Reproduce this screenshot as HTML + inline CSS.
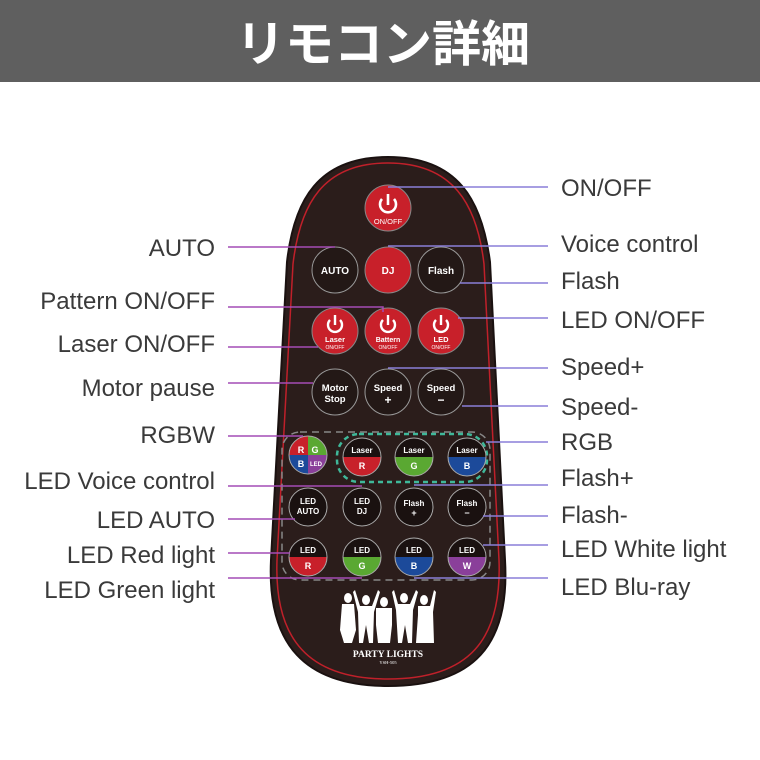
<!DOCTYPE html>
<html><head><meta charset="utf-8"><style>
html,body{margin:0;padding:0;background:#fff;}
svg{display:block}
</style></head><body>
<svg width="760" height="760" viewBox="0 0 760 760" xmlns="http://www.w3.org/2000/svg" font-family="Liberation Sans, sans-serif">
<rect width="760" height="760" fill="#fff"/>
<rect width="760" height="82" fill="#5f5f5f"/>
<text x="383" y="61" text-anchor="middle" fill="#fff" font-size="49" font-weight="bold" font-family="Liberation Sans, Noto Sans CJK JP, sans-serif">リモコン詳細</text>

<!-- remote body -->
<path d="M388,157 C318,157 294,200 287,262 L271,560 C267,645 305,686 388,686 C474,686 510,645 505,560 L490,262 C482,200 458,157 388,157 Z" fill="#2b1d1b" stroke="#1a1110" stroke-width="2"/>
<path d="M388,163 C323,163 300,204 293,264 L277,560 C274,640 309,679 388,679 C469,679 502,640 499,560 L484,264 C477,204 453,163 388,163 Z" fill="none" stroke="#c0202a" stroke-width="1.5"/>

<g font-weight="bold" text-anchor="middle" fill="#fff">
<circle cx="388" cy="208" r="23" fill="#c8202a" stroke="#888" stroke-width="1"/>
<path d="M382,199 A8,8 0 1 0 394,199" fill="none" stroke="#fff" stroke-width="2.6"/>
<line x1="388" y1="194" x2="388" y2="205" stroke="#fff" stroke-width="2.6"/>
<text x="388" y="224" font-size="7.5" font-weight="normal">ON/OFF</text>
<circle cx="335" cy="270" r="23" fill="#231816" stroke="#999" stroke-width="1"/>
<text x="335" y="274" font-size="10">AUTO</text>
<circle cx="388" cy="270" r="23" fill="#c8202a" stroke="#888" stroke-width="1"/>
<text x="388" y="274" font-size="10">DJ</text>
<circle cx="441" cy="270" r="23" fill="#231816" stroke="#999" stroke-width="1"/>
<text x="441" y="274" font-size="10">Flash</text>
<g>
<circle cx="335" cy="331" r="23" fill="#c8202a" stroke="#888"/>
<path d="M330,320 A7,7 0 1 0 340,320" fill="none" stroke="#fff" stroke-width="2.4"/><line x1="335" y1="315" x2="335" y2="325" stroke="#fff" stroke-width="2.4"/>
<text x="335" y="342" font-size="7.5">Laser</text><text x="335" y="349" font-size="5" font-weight="normal">ON/OFF</text>
<circle cx="388" cy="331" r="23" fill="#c8202a" stroke="#888"/>
<path d="M383,320 A7,7 0 1 0 393,320" fill="none" stroke="#fff" stroke-width="2.4"/><line x1="388" y1="315" x2="388" y2="325" stroke="#fff" stroke-width="2.4"/>
<text x="388" y="342" font-size="7">Battern</text><text x="388" y="349" font-size="5" font-weight="normal">ON/OFF</text>
<circle cx="441" cy="331" r="23" fill="#c8202a" stroke="#888"/>
<path d="M436,320 A7,7 0 1 0 446,320" fill="none" stroke="#fff" stroke-width="2.4"/><line x1="441" y1="315" x2="441" y2="325" stroke="#fff" stroke-width="2.4"/>
<text x="441" y="342" font-size="7.5">LED</text><text x="441" y="349" font-size="5" font-weight="normal">ON/OFF</text>
</g>
<circle cx="335" cy="392" r="23" fill="#231816" stroke="#999"/>
<text x="335" y="391" font-size="9.5">Motor</text><text x="335" y="402" font-size="9.5">Stop</text>
<circle cx="388" cy="392" r="23" fill="#231816" stroke="#999"/>
<text x="388" y="391" font-size="9.5">Speed</text><text x="388" y="404" font-size="12">+</text>
<circle cx="441" cy="392" r="23" fill="#231816" stroke="#999"/>
<text x="441" y="391" font-size="9.5">Speed</text><text x="441" y="404" font-size="12">−</text>

<rect x="282" y="432" width="208" height="148" rx="18" fill="none" stroke="#888" stroke-width="1.5" stroke-dasharray="7,5"/>
<rect x="337" y="434" width="150" height="48" rx="22" fill="none" stroke="#3fb89a" stroke-width="2.5" stroke-dasharray="5,4"/>

<clipPath id="c1"><circle cx="308" cy="455" r="19"/></clipPath>
<g clip-path="url(#c1)">
<rect x="289" y="436" width="19" height="19" fill="#c8202a"/><rect x="308" y="436" width="19" height="19" fill="#5aa832"/>
<rect x="289" y="455" width="19" height="19" fill="#1c4a9a"/><rect x="308" y="455" width="19" height="19" fill="#8a3f9a"/>
</g>
<circle cx="308" cy="455" r="19" fill="none" stroke="#aaa"/>
<text x="301" y="453" font-size="9">R</text><text x="315" y="453" font-size="9">G</text>
<text x="301" y="467" font-size="9">B</text><text x="316" y="466" font-size="6">LED</text>

<g>
<clipPath id="c2"><circle cx="362" cy="457" r="19"/></clipPath>
<g clip-path="url(#c2)"><rect x="343" y="438" width="38" height="19" fill="#1a1110"/><rect x="343" y="457" width="38" height="19" fill="#c8202a"/></g>
<circle cx="362" cy="457" r="19" fill="none" stroke="#aaa"/>
<text x="362" y="453" font-size="8">Laser</text><text x="362" y="469" font-size="9">R</text>
<clipPath id="c3"><circle cx="414" cy="457" r="19"/></clipPath>
<g clip-path="url(#c3)"><rect x="395" y="438" width="38" height="19" fill="#1a1110"/><rect x="395" y="457" width="38" height="19" fill="#5aa832"/></g>
<circle cx="414" cy="457" r="19" fill="none" stroke="#aaa"/>
<text x="414" y="453" font-size="8">Laser</text><text x="414" y="469" font-size="9">G</text>
<clipPath id="c4"><circle cx="467" cy="457" r="19"/></clipPath>
<g clip-path="url(#c4)"><rect x="448" y="438" width="38" height="19" fill="#1a1110"/><rect x="448" y="457" width="38" height="19" fill="#1c4a9a"/></g>
<circle cx="467" cy="457" r="19" fill="none" stroke="#aaa"/>
<text x="467" y="453" font-size="8">Laser</text><text x="467" y="469" font-size="9">B</text>
</g>

<circle cx="308" cy="507" r="19" fill="#1a1110" stroke="#aaa"/>
<text x="308" y="504" font-size="8">LED</text><text x="308" y="514" font-size="8">AUTO</text>
<circle cx="362" cy="507" r="19" fill="#1a1110" stroke="#aaa"/>
<text x="362" y="504" font-size="8">LED</text><text x="362" y="514" font-size="8">DJ</text>
<circle cx="414" cy="507" r="19" fill="#1a1110" stroke="#aaa"/>
<text x="414" y="506" font-size="8">Flash</text><text x="414" y="516" font-size="9">+</text>
<circle cx="467" cy="507" r="19" fill="#1a1110" stroke="#aaa"/>
<text x="467" y="506" font-size="8">Flash</text><text x="467" y="516" font-size="9">−</text>

<clipPath id="d1"><circle cx="308" cy="557" r="19"/></clipPath>
<g clip-path="url(#d1)"><rect x="289" y="538" width="38" height="19" fill="#1a1110"/><rect x="289" y="557" width="38" height="19" fill="#c8202a"/></g>
<circle cx="308" cy="557" r="19" fill="none" stroke="#aaa"/>
<text x="308" y="553" font-size="8">LED</text><text x="308" y="569" font-size="9">R</text>
<clipPath id="d2"><circle cx="362" cy="557" r="19"/></clipPath>
<g clip-path="url(#d2)"><rect x="343" y="538" width="38" height="19" fill="#1a1110"/><rect x="343" y="557" width="38" height="19" fill="#5aa832"/></g>
<circle cx="362" cy="557" r="19" fill="none" stroke="#aaa"/>
<text x="362" y="553" font-size="8">LED</text><text x="362" y="569" font-size="9">G</text>
<clipPath id="d3"><circle cx="414" cy="557" r="19"/></clipPath>
<g clip-path="url(#d3)"><rect x="395" y="538" width="38" height="19" fill="#1a1110"/><rect x="395" y="557" width="38" height="19" fill="#1c4a9a"/></g>
<circle cx="414" cy="557" r="19" fill="none" stroke="#aaa"/>
<text x="414" y="553" font-size="8">LED</text><text x="414" y="569" font-size="9">B</text>
<clipPath id="d4"><circle cx="467" cy="557" r="19"/></clipPath>
<g clip-path="url(#d4)"><rect x="448" y="538" width="38" height="19" fill="#1a1110"/><rect x="448" y="557" width="38" height="19" fill="#8a3f9a"/></g>
<circle cx="467" cy="557" r="19" fill="none" stroke="#aaa"/>
<text x="467" y="553" font-size="8">LED</text><text x="467" y="569" font-size="9">W</text>
</g>

<g fill="#fff">
<ellipse cx="348" cy="598" rx="4" ry="5"/><path d="M342,604 L354,604 L356,630 L352,643 L344,643 L340,630 Z"/>
<ellipse cx="366" cy="600" rx="4" ry="5"/><path d="M355,590 L360,606 L372,606 L378,590 L380,592 L374,612 L373,643 L369,643 L366,625 L363,643 L359,643 L358,612 L353,592 Z"/>
<ellipse cx="384" cy="602" rx="4" ry="5"/><path d="M376,608 L392,608 L392,625 L390,643 L378,643 L376,625 Z"/>
<ellipse cx="404" cy="598" rx="4" ry="5"/><path d="M394,590 L398,604 L410,604 L416,590 L418,592 L413,610 L412,643 L408,643 L405,625 L402,643 L398,643 L396,610 L392,592 Z"/>
<ellipse cx="424" cy="600" rx="4" ry="5"/><path d="M418,606 L430,606 L434,590 L436,592 L433,612 L434,643 L416,643 L418,615 Z"/>
</g>
<text x="388" y="657" text-anchor="middle" fill="#fff" font-size="9.5" font-weight="bold" font-family="Liberation Serif, serif">PARTY LIGHTS</text>
<text x="388" y="664" text-anchor="middle" fill="#fff" font-size="4.5" font-family="Liberation Serif, serif">YSH-505</text>

<g stroke="#a44db5" stroke-width="1.5" fill="none">
<polyline points="228,247 335,247"/>
<polyline points="228,307 383,307 383,312"/>
<polyline points="228,347 318,347"/>
<polyline points="228,383 313,383"/>
<polyline points="228,436 303,436"/>
<polyline points="228,486 362,486"/>
<polyline points="228,519 295,519"/>
<polyline points="228,553 290,553"/>
<polyline points="228,578 362,578"/>
</g>
<g stroke="#8a7fd8" stroke-width="1.5" fill="none">
<polyline points="388,187 548,187"/>
<polyline points="388,246 548,246"/>
<polyline points="460,283 548,283"/>
<polyline points="458,318 548,318"/>
<polyline points="388,368 548,368"/>
<polyline points="462,406 548,406"/>
<polyline points="486,442 548,442"/>
<polyline points="414,485 548,485"/>
<polyline points="483,516 548,516"/>
<polyline points="483,545 548,545"/>
<polyline points="414,578 548,578"/>
</g>

<g font-size="24" fill="#3a3a3a" font-family="Liberation Sans, sans-serif">
<g text-anchor="end">
<text x="215" y="256">AUTO</text>
<text x="215" y="309">Pattern ON/OFF</text>
<text x="215" y="352">Laser ON/OFF</text>
<text x="215" y="396">Motor pause</text>
<text x="215" y="443">RGBW</text>
<text x="215" y="489">LED Voice control</text>
<text x="215" y="528">LED AUTO</text>
<text x="215" y="563">LED Red light</text>
<text x="215" y="598">LED Green light</text>
</g>
<text x="561" y="196">ON/OFF</text>
<text x="561" y="252">Voice control</text>
<text x="561" y="289">Flash</text>
<text x="561" y="328">LED ON/OFF</text>
<text x="561" y="375">Speed+</text>
<text x="561" y="415">Speed-</text>
<text x="561" y="450">RGB</text>
<text x="561" y="486">Flash+</text>
<text x="561" y="523">Flash-</text>
<text x="561" y="557">LED White light</text>
<text x="561" y="595">LED Blu-ray</text>
</g>
</svg>
</body></html>
